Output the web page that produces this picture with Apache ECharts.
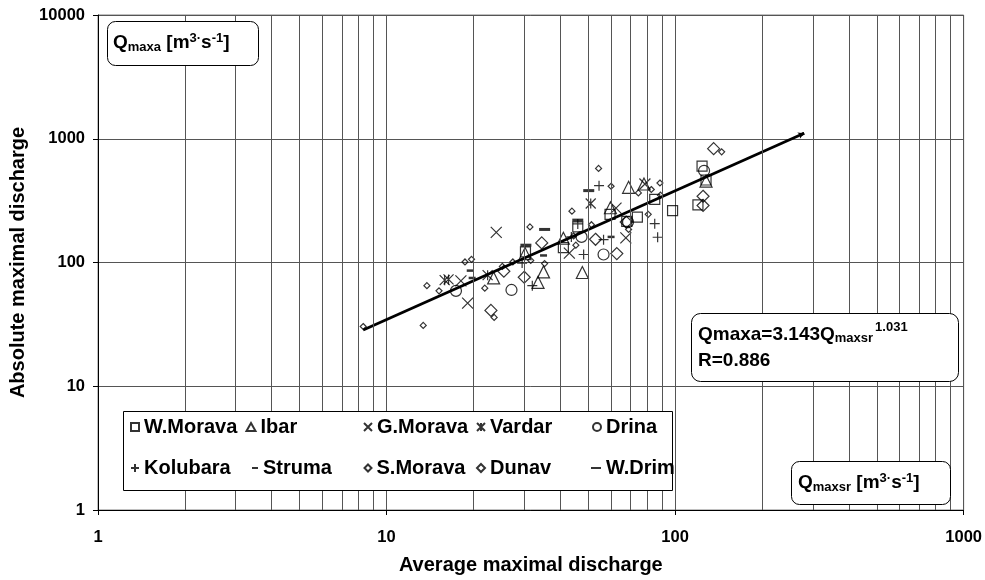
<!DOCTYPE html>
<html><head><meta charset="utf-8">
<script src="https://cdn.jsdelivr.net/npm/echarts@6/dist/echarts.min.js"></script>
<style>html,body{margin:0;padding:0;background:#fff}#c{width:985px;height:580px}</style>
</head><body><div id="c"></div>
<script>
// ---- data ----
const wMorava = [[30.3,122],[41,132],[46,194],[59.5,245],[68,215],[74,233],[85,324],[98,263],[124,600],[120,292],[128,464]];
const ibar = [[23.5,75],[30.2,118],[35,84],[33.5,69],[41,157],[47.7,83],[59.7,277],[69,405],[78,431],[128,455]];
const gMorava = [[18.1,71],[19.1,47],[24,175],[43,119],[62.4,275],[67.5,158],[78.6,431]];
const vardar = [[15.9,72],[16.4,73],[22.4,79],[51,300]];
const drina = [[17.4,59],[27.1,60],[47.4,161],[56.5,116],[68.7,212],[126,551]];
const kolubara = [[29.5,99],[32,65],[43.7,161],[48.2,116],[54.5,418],[56.5,153],[85,206],[87,160],[46,205]];
const struma = [[19.5,86],[19.8,75],[35,114],[60,161]];
const sMorava = [[8.3,30.4],[13.4,31],[13.8,65],[15.2,59],[18.7,101],[19.7,106],[21.9,62],[23.6,36],[25.2,93],[27.4,101],[31.4,194],[31.6,104],[35.3,98],[43.9,260],[44.5,164],[45.3,138],[51.3,202],[54.3,576],[60,413],[69,185],[74.6,365],[80.7,245],[82.7,389],[88.6,439],[89,350],[145,784]];
const dunav = [[23,41],[25.5,85],[30,76],[34.5,144],[53,154],[62.8,118],[67.7,212],[125,343],[125,289],[136,831]];
const wDrim = [[35.3,185],[50.2,381],[30.4,138],[46,220]];
const trendX = [8.3, 280];
const trendY = [28.5, 1107];
const xTickLabels = ['1','10','100','1000'];
const yTickLabels = ['1','10','100','1000','10000'];
const minorX = [2,3,4,5,6,7,8,9,20,30,40,50,60,70,80,90,200,300,400,500,600,700,800,900];

// ---- styling ----
const FF = '"Liberation Sans", Arial, sans-serif';
const hollow = {color:'rgba(0,0,0,0)', borderColor:'#000', borderWidth:1.2};
const P_X = 'path://M0,0L10,10M10,0L0,10';
const P_PLUS = 'path://M5,0L5,10M0,5L10,5';
const P_AST = 'path://M0,0L10,10M10,0L0,10M5,0L5,10';

const seriesDefs = [
  {name:'W.Morava', data:wMorava, symbol:'rect', size:10, style:hollow},
  {name:'Ibar', data:ibar, symbol:'triangle', size:12, style:hollow},
  {name:'G.Morava', data:gMorava, symbol:P_X, size:11, style:hollow},
  {name:'Vardar', data:vardar, symbol:P_AST, size:10, style:hollow},
  {name:'Drina', data:drina, symbol:'circle', size:11, style:hollow},
  {name:'Kolubara', data:kolubara, symbol:P_PLUS, size:10, style:hollow},
  {name:'Struma', data:struma, symbol:'rect', size:[7,2.5], style:{color:'#000', borderWidth:0}},
  {name:'S.Morava', data:sMorava, symbol:'diamond', size:6, style:hollow},
  {name:'Dunav', data:dunav, symbol:'diamond', size:12, style:hollow},
  {name:'W.Drim', data:wDrim, symbol:'rect', size:[11,3], style:{color:'#000', borderWidth:0}}
];

const series = seriesDefs.map(d => ({
  name:d.name, type:'scatter', data:d.data, symbol:d.symbol, symbolSize:d.size,
  itemStyle:d.style, z:3
}));

const gridMarks = minorX.map(v => [{coord:[v,1], symbol:'none'},{coord:[v,10000], symbol:'none'}]);
series.push({
  name:'trend', type:'line', data:trendX.map((x,i)=>[x,trendY[i]]), symbol:'none',
  lineStyle:{color:'#000', width:2.8}, z:4,
  markLine:{silent:true, animation:false, symbol:'none', label:{show:false},
    lineStyle:{color:'#555', width:1, type:'solid'},
    data: gridMarks.concat([[{coord:[trendX[1]*0.98,trendY[1]*0.98], symbol:'none', lineStyle:{color:'#000', width:2.8, type:'solid'}},{coord:[trendX[1],trendY[1]], symbol:'arrow', symbolSize:[5,6]}]])
  }
});

// legend positions: [markerX, rowY]
const legendPos = [[134,428],[250,428],[367,428],[480,428],[596,428],[134,469],[255,469],[367,469],[480,469],[596,469]];
const legendIcon = {
  'W.Morava':[8,8],'Ibar':[9,8],'G.Morava':[8,8],'Vardar':[8,8],'Drina':[8,8],
  'Kolubara':[8,8],'Struma':[6,2],'S.Morava':[7,7],'Dunav':[8,8],'W.Drim':[10,2]
};
const legends = seriesDefs.map((d,i) => {
  const [w,h] = legendIcon[d.name];
  return {
    data:[d.name], left:legendPos[i][0]-w/2, top:legendPos[i][1]-11, padding:0, itemGap:0,
    itemWidth:w, itemHeight:h, selectedMode:false, z:12,
    textStyle:{fontSize:20, fontWeight:'bold', fontFamily:FF, color:'#000'}
  };
});

const chart = echarts.init(document.getElementById('c'), null, {renderer:'canvas'});
chart.setOption({
  animation:false,
  backgroundColor:'#fff',
  grid:{left:97, right:18, top:15, bottom:67, show:true, borderColor:'#808080', borderWidth:1, containLabel:false},
  xAxis:{type:'log', logBase:10, min:1, max:1000,
    name:'Average maximal discharge', nameLocation:'middle', nameGap:45,
    nameTextStyle:{fontSize:20, fontWeight:'bold', fontFamily:FF, color:'#000'},
    axisLine:{show:true, onZero:false, lineStyle:{color:'#000', width:1}},
    axisTick:{show:true, length:5, lineStyle:{color:'#000'}},
    axisLabel:{margin:19, fontSize:16.5, fontWeight:'bold', fontFamily:FF, color:'#000', formatter:(v,i)=>xTickLabels[i]},
    splitLine:{show:true, lineStyle:{color:'#555', width:1}}
  },
  yAxis:{type:'log', logBase:10, min:1, max:10000,
    name:'Absolute maximal discharge', nameLocation:'middle', nameGap:70,
    nameTextStyle:{fontSize:20, fontWeight:'bold', fontFamily:FF, color:'#000'},
    axisLine:{show:true, onZero:false, lineStyle:{color:'#000', width:1}},
    axisTick:{show:true, length:5, lineStyle:{color:'#000'}},
    axisLabel:{margin:13, fontSize:16.5, fontWeight:'bold', fontFamily:FF, color:'#000', formatter:(v,i)=>yTickLabels[i]},
    splitLine:{show:true, lineStyle:{color:'#555', width:1}}
  },
  legend:legends,
  series:series,
  graphic:[
    {type:'rect', z:10, shape:{x:123.5, y:411.5, width:549, height:79}, style:{fill:'#fff', stroke:'#000', lineWidth:1}},
    {type:'rect', z:10, shape:{x:107.5, y:21.5, width:151, height:44, r:8}, style:{fill:'#fff', stroke:'#000', lineWidth:1}},
    {type:'text', z:11, x:113, y:43, style:{
      text:'{q|Q}{sub|maxa}{q| [m}{sup|3·}{q|s}{sup|-1}{q|]}', verticalAlign:'middle', align:'left',
      rich:{q:{fontSize:19, fontWeight:'bold', fontFamily:FF, fill:'#000'},
            sub:{fontSize:13, fontWeight:'bold', fontFamily:FF, fill:'#000', padding:[8,0,0,0]},
            sup:{fontSize:13, fontWeight:'bold', fontFamily:FF, fill:'#000', padding:[0,0,10,0]}}}},
    {type:'rect', z:10, shape:{x:691.5, y:313.5, width:267, height:68, r:9}, style:{fill:'#fff', stroke:'#000', lineWidth:1}},
    {type:'text', z:11, x:698, y:321, style:{
      text:'{q|Qmaxa=3.143Q}{sub|maxsr}{sup|1.031}\n{q|R=0.886}', verticalAlign:'top', align:'left',
      rich:{q:{fontSize:19, fontWeight:'bold', fontFamily:FF, fill:'#000', lineHeight:25},
            sub:{fontSize:13, fontWeight:'bold', fontFamily:FF, fill:'#000', padding:[8,0,0,0]},
            sup:{fontSize:13, fontWeight:'bold', fontFamily:FF, fill:'#000', padding:[0,0,14,2]}}}},
    {type:'rect', z:10, shape:{x:791.5, y:461.5, width:159, height:43, r:8}, style:{fill:'#fff', stroke:'#000', lineWidth:1}},
    {type:'text', z:11, x:798, y:483, style:{
      text:'{q|Q}{sub|maxsr}{q| [m}{sup|3·}{q|s}{sup|-1}{q|]}', verticalAlign:'middle', align:'left',
      rich:{q:{fontSize:19, fontWeight:'bold', fontFamily:FF, fill:'#000'},
            sub:{fontSize:13, fontWeight:'bold', fontFamily:FF, fill:'#000', padding:[8,0,0,0]},
            sup:{fontSize:13, fontWeight:'bold', fontFamily:FF, fill:'#000', padding:[0,0,10,0]}}}}
  ]
});
</script></body></html>
